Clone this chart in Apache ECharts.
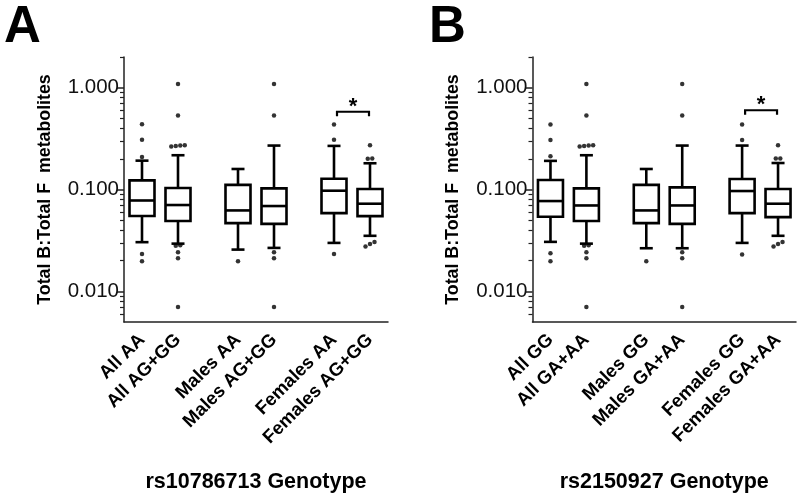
<!DOCTYPE html>
<html>
<head>
<meta charset="utf-8">
<script src="https://cdn.jsdelivr.net/npm/echarts@6/dist/echarts.min.js"></script>
<style>
html,body{margin:0;padding:0;background:#fff;}
#chart{width:800px;height:498px;}
</style>
</head>
<body>
<div id="chart"></div>
<script>
// ---------- data ----------
const categoriesA = ['All AA', 'All AG+GG', 'Males AA', 'Males AG+GG', 'Females AA', 'Females AG+GG'];
const categoriesB = ['All GG', 'All GA+AA', 'Males GG', 'Males GA+AA', 'Females GG', 'Females GA+AA'];

const minA    = [0.0304, 0.0294, 0.0257, 0.0267, 0.0299, 0.0351];
const q1A     = [0.055, 0.049, 0.0468, 0.046, 0.0586, 0.0548];
const medianA = [0.078, 0.0704, 0.0623, 0.0688, 0.0973, 0.0725];
const q3A     = [0.123, 0.1035, 0.111, 0.1025, 0.1277, 0.101];
const maxA    = [0.192, 0.217, 0.159, 0.270, 0.268, 0.181];
const outliersA = [
  [0.437, 0.308, 0.209, 0.0233, 0.0198],
  [1.085, 0.533, 0.272, 0.270, 0.268, 0.265, 0.0283, 0.0281, 0.0242, 0.0211, 0.0070],
  [0.0198],
  [1.085, 0.533, 0.0242, 0.0211, 0.0070],
  [0.434, 0.308, 0.0232],
  [0.272, 0.201, 0.200, 0.0305, 0.0292, 0.0275]
];

const minB    = [0.0306, 0.0294, 0.0265, 0.0265, 0.0299, 0.0351];
const q1B     = [0.054, 0.049, 0.0468, 0.046, 0.0586, 0.0536];
const medianB = [0.077, 0.0697, 0.0623, 0.0697, 0.0966, 0.0725];
const q3B     = [0.124, 0.1025, 0.111, 0.105, 0.127, 0.101];
const maxB    = [0.191, 0.217, 0.159, 0.270, 0.270, 0.182];
const outliersB = [
  [0.435, 0.307, 0.212, 0.0237, 0.0197],
  [1.085, 0.533, 0.272, 0.270, 0.268, 0.265, 0.0283, 0.0281, 0.0242, 0.0211, 0.0070],
  [0.0197],
  [1.085, 0.533, 0.0242, 0.0211, 0.0070],
  [0.434, 0.307, 0.0230],
  [0.272, 0.202, 0.201, 0.0305, 0.0292, 0.0275]
];

// significance: groups compared (Females pair), bracket level
const sigPairA = [4, 5], sigLevelA = 0.58;
const sigPairB = [4, 5], sigLevelB = 0.60;

const yMajorTicks = [0.01, 0.1, 1];
const yMinorTicks = [0.006, 0.007, 0.008, 0.009,
  0.02, 0.03, 0.04, 0.05, 0.06, 0.07, 0.08, 0.09,
  0.2, 0.3, 0.4, 0.5, 0.6, 0.7, 0.8, 0.9, 2];
const yMin = 0.005, yMax = 2;
const xTitleA = 'rs10786713 Genotype';
const xTitleB = 'rs2150927 Genotype';
const yTitle = 'Total B:Total F  metabolites';

// ---------- layout ----------
const slotCount = 22;
const slotIndex = [1, 4, 9, 12, 17, 20];
const FONT = '"Liberation Sans", Arial, Helvetica, sans-serif';

function slotNames(cats) {
  const arr = new Array(slotCount).fill('');
  slotIndex.forEach((s, i) => { arr[s] = cats[i]; });
  return arr;
}
function boxData(mn, q1, md, q3, mx) {
  return slotIndex.map((s, i) => [s, mn[i], q1[i], md[i], q3[i], mx[i]]);
}
// spread overlapping dots horizontally (like the original software does)
function outlierData(outs) {
  const res = [];
  const thr = 0.034, step = 4.5;
  outs.forEach((vals, gi) => {
    const sorted = vals.slice().sort((a, b) => a - b);
    let cluster = [];
    const flush = () => {
      const n = cluster.length;
      cluster.forEach((v, k) => {
        res.push({ value: [slotIndex[gi], v], symbolOffset: [(k - (n - 1) / 2) * step, 0] });
      });
      cluster = [];
    };
    sorted.forEach(v => {
      if (cluster.length && Math.log10(v) - Math.log10(cluster[cluster.length - 1]) > thr) flush();
      cluster.push(v);
    });
    flush();
  });
  return res;
}

function renderBox(params, api) {
  const x = api.value(0);
  const pMin = api.coord([x, api.value(1)]);
  const pQ1 = api.coord([x, api.value(2)]);
  const pMed = api.coord([x, api.value(3)]);
  const pQ3 = api.coord([x, api.value(4)]);
  const pMax = api.coord([x, api.value(5)]);
  const cx = pMed[0];
  const hw = 12.5, cw = 6.5;
  const st = { stroke: '#000', lineWidth: 2.6, fill: 'none' };
  return {
    type: 'group',
    children: [
      { type: 'line', shape: { x1: cx, y1: pQ3[1], x2: cx, y2: pMax[1] }, style: st },
      { type: 'line', shape: { x1: cx, y1: pQ1[1], x2: cx, y2: pMin[1] }, style: st },
      { type: 'line', shape: { x1: cx - cw, y1: pMax[1], x2: cx + cw, y2: pMax[1] }, style: st },
      { type: 'line', shape: { x1: cx - cw, y1: pMin[1], x2: cx + cw, y2: pMin[1] }, style: st },
      { type: 'rect', shape: { x: cx - hw, y: pQ3[1], width: 2 * hw, height: pQ1[1] - pQ3[1] }, style: { stroke: '#000', lineWidth: 2.6, fill: '#fff' } },
      { type: 'line', shape: { x1: cx - hw, y1: pMed[1], x2: cx + hw, y2: pMed[1] }, style: st }
    ]
  };
}
function renderSig(params, api) {
  const v = api.value(2);
  const p1 = api.coord([api.value(0), v]);
  const p2 = api.coord([api.value(1), v]);
  const x1 = p1[0] + 3, x2 = p2[0] - 1, y = p1[1];
  const st = { stroke: '#000', lineWidth: 2.2, fill: 'none' };
  return {
    type: 'group',
    children: [
      { type: 'polyline', shape: { points: [[x1, y + 4.5], [x1, y], [x2, y], [x2, y + 4.5]] }, style: st },
      { type: 'text', x: (x1 + x2) / 2, y: y - 5, style: { text: '*', fill: '#000', font: 'bold 22px ' + FONT, textAlign: 'center', textVerticalAlign: 'middle' } }
    ]
  };
}

function xAxisCfg(gi, cats, title) {
  return {
    type: 'category', gridIndex: gi, data: slotNames(cats),
    boundaryGap: true,
    axisLine: { lineStyle: { color: '#222', width: 1.5 } },
    axisTick: { alignWithLabel: true, length: 8, lineStyle: { color: '#222', width: 2 },
      interval: (i) => slotIndex.indexOf(i) >= 0 },
    axisLabel: { interval: (i) => slotIndex.indexOf(i) >= 0, rotate: 45, margin: 15,
      color: '#000', fontWeight: 'bold', fontSize: 18.5, fontFamily: FONT },
    splitLine: { show: false },
    name: title, nameLocation: 'middle', nameGap: 149,
    nameTextStyle: { color: '#000', fontWeight: 'bold', fontSize: 21.5, fontFamily: FONT }
  };
}
function yMajorCfg(gi) {
  return {
    type: 'log', gridIndex: gi, position: 'left', min: yMin, max: yMax, logBase: 10,
    axisLine: { show: true, lineStyle: { color: '#222', width: 1.5 } },
    axisTick: { show: true, length: 7, customValues: yMajorTicks, lineStyle: { color: '#222', width: 1.5 } },
    axisLabel: { customValues: yMajorTicks, margin: 5, color: '#111', fontSize: 20.5, fontFamily: FONT,
      formatter: (v) => Number(v).toFixed(3) },
    splitLine: { show: false },
    name: yTitle, nameLocation: 'middle', nameGap: 70,
    nameTextStyle: { color: '#000', fontWeight: 'bold', fontSize: 17.8, fontFamily: FONT }
  };
}
function yMinorCfg(gi) {
  return {
    type: 'log', gridIndex: gi, position: 'left', offset: 0, min: yMin, max: yMax, logBase: 10,
    axisLine: { show: false },
    axisTick: { show: true, length: 4, customValues: yMinorTicks, lineStyle: { color: '#222', width: 1.2 } },
    axisLabel: { show: false },
    splitLine: { show: false }
  };
}
function seriesFor(gi, mn, q1, md, q3, mx, outs, pair, level) {
  return [
    { type: 'custom', xAxisIndex: gi, yAxisIndex: gi * 2, renderItem: renderBox,
      encode: { x: 0, y: [1, 2, 3, 4, 5] }, data: boxData(mn, q1, md, q3, mx), silent: true },
    { type: 'scatter', xAxisIndex: gi, yAxisIndex: gi * 2, symbol: 'circle', symbolSize: 4.5,
      itemStyle: { color: '#000' }, data: outlierData(outs), silent: true, z: 5 },
    { type: 'custom', xAxisIndex: gi, yAxisIndex: gi * 2, renderItem: renderSig,
      encode: { x: [0, 1], y: 2 }, data: [[slotIndex[pair[0]], slotIndex[pair[1]], level]], silent: true }
  ];
}

const chart = echarts.init(document.getElementById('chart'), null, { renderer: 'canvas' });
chart.setOption({
  backgroundColor: '#fff',
  animation: false,
  textStyle: { fontFamily: FONT },
  grid: [
    { left: 124, top: 57, width: 264, height: 265 },
    { left: 532.5, top: 57, width: 263.5, height: 265 }
  ],
  xAxis: [xAxisCfg(0, categoriesA, xTitleA), xAxisCfg(1, categoriesB, xTitleB)],
  yAxis: [yMajorCfg(0), yMinorCfg(0), yMajorCfg(1), yMinorCfg(1)],
  graphic: [
    { type: 'text', left: 4, top: 2, style: { text: 'A', fill: '#000', font: 'bold 51px ' + FONT } },
    { type: 'text', left: 429, top: 2, style: { text: 'B', fill: '#000', font: 'bold 51px ' + FONT } }
  ],
  series: [].concat(
    seriesFor(0, minA, q1A, medianA, q3A, maxA, outliersA, sigPairA, sigLevelA),
    seriesFor(1, minB, q1B, medianB, q3B, maxB, outliersB, sigPairB, sigLevelB)
  )
});
</script>
</body>
</html>
